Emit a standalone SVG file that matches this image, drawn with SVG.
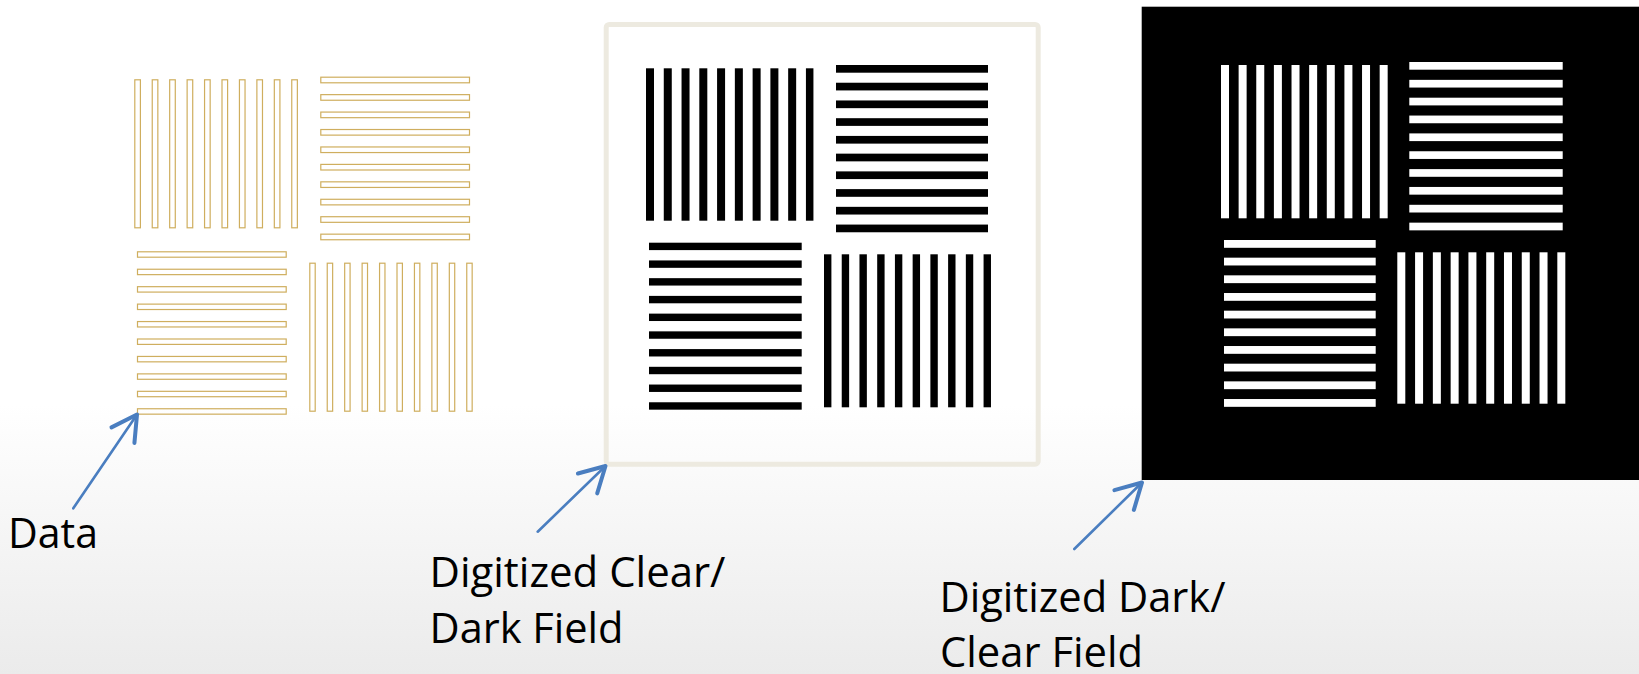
<svg xmlns="http://www.w3.org/2000/svg" width="1639" height="674" viewBox="0 0 1639 674">
<style>
.lbl{font-family:"Open Sans","Noto Sans","Liberation Sans",sans-serif;font-size:42px;fill:#000}
.gold rect{fill:none;stroke:#CFAE5E;stroke-width:1.2}
.blk rect{fill:#000}
.wht rect{fill:#fff}
.arr{fill:none;stroke:#4A7EC0;stroke-width:2.6;stroke-linecap:round}
</style>
<defs>
<linearGradient id="bg" x1="0" y1="0" x2="0" y2="1">
<stop offset="0" stop-color="#fff"/>
<stop offset="0.6" stop-color="#fff"/>
<stop offset="1" stop-color="#ebebeb"/>
</linearGradient>
<marker id="head" markerUnits="userSpaceOnUse" markerWidth="40" markerHeight="40" refX="0" refY="0" viewBox="-22 -14 26 28" orient="auto">
<path d="M-17.5,-9.7 L0,0 L-17.5,9.7" fill="none" stroke="#4A7EC0" stroke-width="2.8" stroke-linecap="round" stroke-linejoin="round"/>
</marker>
</defs>
<rect x="0" y="0" width="1639" height="674" fill="url(#bg)"/>

<g id="data-panel" class="gold">
<rect x="134.8" y="79.8" width="5.6" height="148"/><rect x="152.24" y="79.8" width="5.6" height="148"/><rect x="169.68" y="79.8" width="5.6" height="148"/><rect x="187.12" y="79.8" width="5.6" height="148"/><rect x="204.56" y="79.8" width="5.6" height="148"/><rect x="222" y="79.8" width="5.6" height="148"/><rect x="239.44" y="79.8" width="5.6" height="148"/><rect x="256.88" y="79.8" width="5.6" height="148"/><rect x="274.32" y="79.8" width="5.6" height="148"/><rect x="291.76" y="79.8" width="5.6" height="148"/>
<rect x="320.8" y="77.2" width="148.7" height="5.6"/><rect x="320.8" y="94.64" width="148.7" height="5.6"/><rect x="320.8" y="112.08" width="148.7" height="5.6"/><rect x="320.8" y="129.52" width="148.7" height="5.6"/><rect x="320.8" y="146.96" width="148.7" height="5.6"/><rect x="320.8" y="164.4" width="148.7" height="5.6"/><rect x="320.8" y="181.84" width="148.7" height="5.6"/><rect x="320.8" y="199.28" width="148.7" height="5.6"/><rect x="320.8" y="216.72" width="148.7" height="5.6"/><rect x="320.8" y="234.16" width="148.7" height="5.6"/>
<rect x="137.5" y="251.8" width="148.7" height="5.4"/><rect x="137.5" y="269.24" width="148.7" height="5.4"/><rect x="137.5" y="286.68" width="148.7" height="5.4"/><rect x="137.5" y="304.12" width="148.7" height="5.4"/><rect x="137.5" y="321.56" width="148.7" height="5.4"/><rect x="137.5" y="339" width="148.7" height="5.4"/><rect x="137.5" y="356.44" width="148.7" height="5.4"/><rect x="137.5" y="373.88" width="148.7" height="5.4"/><rect x="137.5" y="391.32" width="148.7" height="5.4"/><rect x="137.5" y="408.76" width="148.7" height="5.4"/>
<rect x="309.8" y="263.2" width="5.4" height="148"/><rect x="327.24" y="263.2" width="5.4" height="148"/><rect x="344.68" y="263.2" width="5.4" height="148"/><rect x="362.12" y="263.2" width="5.4" height="148"/><rect x="379.56" y="263.2" width="5.4" height="148"/><rect x="397" y="263.2" width="5.4" height="148"/><rect x="414.44" y="263.2" width="5.4" height="148"/><rect x="431.88" y="263.2" width="5.4" height="148"/><rect x="449.32" y="263.2" width="5.4" height="148"/><rect x="466.76" y="263.2" width="5.4" height="148"/>
</g>

<g id="clear-panel">
<rect x="606.2" y="24.5" width="432" height="439.7" rx="3" fill="none" stroke="#EDEAE0" stroke-width="5"/>
<g class="blk">
<rect x="646" y="68.3" width="8" height="152.4"/><rect x="663.77" y="68.3" width="8" height="152.4"/><rect x="681.54" y="68.3" width="8" height="152.4"/><rect x="699.31" y="68.3" width="8" height="152.4"/><rect x="717.08" y="68.3" width="8" height="152.4"/><rect x="734.85" y="68.3" width="8" height="152.4"/><rect x="752.62" y="68.3" width="8" height="152.4"/><rect x="770.39" y="68.3" width="8" height="152.4"/><rect x="788.16" y="68.3" width="8" height="152.4"/><rect x="805.93" y="68.3" width="7.5" height="152.4"/>
<rect x="836" y="65" width="152" height="7.7"/><rect x="836" y="82.73" width="152" height="7.7"/><rect x="836" y="100.46" width="152" height="7.7"/><rect x="836" y="118.19" width="152" height="7.7"/><rect x="836" y="135.92" width="152" height="7.7"/><rect x="836" y="153.65" width="152" height="7.7"/><rect x="836" y="171.38" width="152" height="7.7"/><rect x="836" y="189.11" width="152" height="7.7"/><rect x="836" y="206.84" width="152" height="7.7"/><rect x="836" y="224.57" width="152" height="7.7"/>
<rect x="649" y="242.7" width="152.7" height="7.4"/><rect x="649" y="260.43" width="152.7" height="7.4"/><rect x="649" y="278.16" width="152.7" height="7.4"/><rect x="649" y="295.89" width="152.7" height="7.4"/><rect x="649" y="313.62" width="152.7" height="7.4"/><rect x="649" y="331.35" width="152.7" height="7.4"/><rect x="649" y="349.08" width="152.7" height="7.4"/><rect x="649" y="366.81" width="152.7" height="7.4"/><rect x="649" y="384.54" width="152.7" height="7.4"/><rect x="649" y="402.27" width="152.7" height="7.4"/>
<rect x="824" y="254.3" width="7.4" height="153"/><rect x="841.73" y="254.3" width="7.4" height="153"/><rect x="859.46" y="254.3" width="7.4" height="153"/><rect x="877.19" y="254.3" width="7.4" height="153"/><rect x="894.92" y="254.3" width="7.4" height="153"/><rect x="912.65" y="254.3" width="7.4" height="153"/><rect x="930.38" y="254.3" width="7.4" height="153"/><rect x="948.11" y="254.3" width="7.4" height="153"/><rect x="965.84" y="254.3" width="7.4" height="153"/><rect x="983.57" y="254.3" width="7.4" height="153"/>
</g>
</g>

<g id="dark-panel">
<rect x="1141.7" y="6.7" width="497.3" height="473.3" fill="#000"/>
<g class="wht">
<rect x="1221" y="65" width="8" height="153.3"/><rect x="1238.63" y="65" width="8" height="153.3"/><rect x="1256.26" y="65" width="8" height="153.3"/><rect x="1273.89" y="65" width="8" height="153.3"/><rect x="1291.52" y="65" width="8" height="153.3"/><rect x="1309.15" y="65" width="8" height="153.3"/><rect x="1326.78" y="65" width="8" height="153.3"/><rect x="1344.41" y="65" width="8" height="153.3"/><rect x="1362.04" y="65" width="8" height="153.3"/><rect x="1379.67" y="65" width="8" height="153.3"/>
<rect x="1409.3" y="62" width="153.4" height="7.7"/><rect x="1409.3" y="79.85" width="153.4" height="7.7"/><rect x="1409.3" y="97.7" width="153.4" height="7.7"/><rect x="1409.3" y="115.55" width="153.4" height="7.7"/><rect x="1409.3" y="133.4" width="153.4" height="7.7"/><rect x="1409.3" y="151.25" width="153.4" height="7.7"/><rect x="1409.3" y="169.1" width="153.4" height="7.7"/><rect x="1409.3" y="186.95" width="153.4" height="7.7"/><rect x="1409.3" y="204.8" width="153.4" height="7.7"/><rect x="1409.3" y="222.65" width="153.4" height="7.7"/>
<rect x="1224" y="240" width="151.7" height="7.8"/><rect x="1224" y="257.67" width="151.7" height="7.8"/><rect x="1224" y="275.34" width="151.7" height="7.8"/><rect x="1224" y="293.01" width="151.7" height="7.8"/><rect x="1224" y="310.68" width="151.7" height="7.8"/><rect x="1224" y="328.35" width="151.7" height="7.8"/><rect x="1224" y="346.02" width="151.7" height="7.8"/><rect x="1224" y="363.69" width="151.7" height="7.8"/><rect x="1224" y="381.36" width="151.7" height="7.8"/><rect x="1224" y="399.03" width="151.7" height="7.8"/>
<rect x="1397.3" y="252.3" width="8" height="151.4"/><rect x="1415.08" y="252.3" width="8" height="151.4"/><rect x="1432.86" y="252.3" width="8" height="151.4"/><rect x="1450.64" y="252.3" width="8" height="151.4"/><rect x="1468.42" y="252.3" width="8" height="151.4"/><rect x="1486.2" y="252.3" width="8" height="151.4"/><rect x="1503.98" y="252.3" width="8" height="151.4"/><rect x="1521.76" y="252.3" width="8" height="151.4"/><rect x="1539.54" y="252.3" width="8" height="151.4"/><rect x="1557.32" y="252.3" width="8" height="151.4"/>
</g>
</g>

<g id="label-data"><text class="lbl" x="8" y="548.3" textLength="90" lengthAdjust="spacingAndGlyphs">Data</text></g>
<g id="label-clear">
<text class="lbl" x="429.5" y="586.7" textLength="296" lengthAdjust="spacingAndGlyphs">Digitized Clear/</text>
<text class="lbl" x="429.5" y="643.3" textLength="194" lengthAdjust="spacingAndGlyphs">Dark Field</text>
</g>
<g id="label-dark">
<text class="lbl" x="939.5" y="611.7" textLength="286" lengthAdjust="spacingAndGlyphs">Digitized Dark/</text>
<text class="lbl" x="940" y="666.7" textLength="203" lengthAdjust="spacingAndGlyphs">Clear Field</text>
</g>

<g id="connectors">
<line class="arr" x1="73.3" y1="508.3" x2="137" y2="414.5" marker-end="url(#head)"/>
<line class="arr" x1="537.7" y1="531.7" x2="605.5" y2="466" marker-end="url(#head)"/>
<line class="arr" x1="1074.3" y1="549" x2="1142" y2="482.5" marker-end="url(#head)"/>
</g>
</svg>
